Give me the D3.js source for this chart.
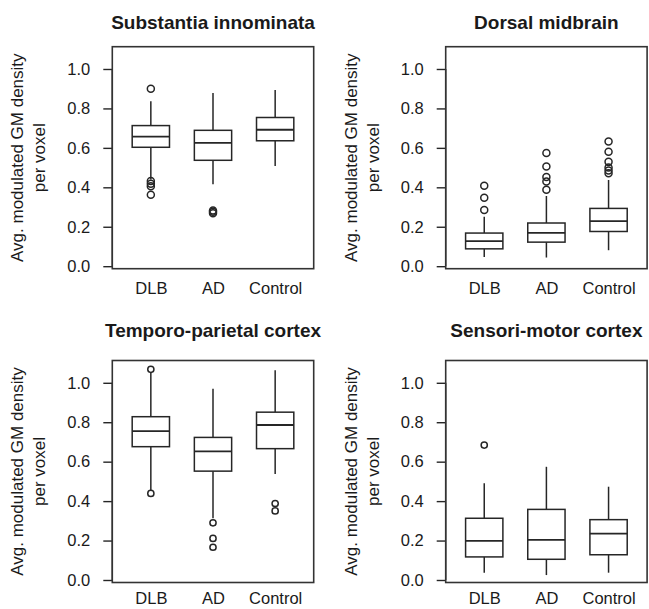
<!DOCTYPE html>
<html>
<head>
<meta charset="utf-8">
<script src="https://cdn.jsdelivr.net/npm/d3@7"></script>
<style>
  html, body { margin: 0; padding: 0; background: #fff; }
  svg { display: block; font-family: "Liberation Sans", Arial, Helvetica, sans-serif; }
</style>
</head>
<body>
<svg id="chart" width="649" height="609"></svg>
<script>
// ---------- data ----------
const groups = ["DLB", "AD", "Control"];
const panelTitles = ["Substantia innominata", "Dorsal midbrain", "Temporo-parietal cortex", "Sensori-motor cortex"];
const yTickValues = [0.0, 0.2, 0.4, 0.6, 0.8, 1.0];
const yLabelLines = ["Avg. modulated GM density", "per voxel"];

// five-number summaries per group: [lower whisker, Q1, median, Q3, upper whisker]
const substantiaStats = [
  [0.440, 0.603, 0.657, 0.713, 0.837],
  [0.416, 0.537, 0.625, 0.689, 0.878],
  [0.508, 0.636, 0.692, 0.754, 0.893]
];
const substantiaOutliers = [
  [0.900, 0.432, 0.418, 0.405, 0.362],
  [0.282, 0.276, 0.268],
  []
];
const midbrainStats = [
  [0.047, 0.088, 0.127, 0.168, 0.251],
  [0.044, 0.122, 0.169, 0.219, 0.356],
  [0.081, 0.176, 0.229, 0.293, 0.437]
];
const midbrainOutliers = [
  [0.408, 0.347, 0.285],
  [0.574, 0.505, 0.452, 0.429, 0.388],
  [0.632, 0.580, 0.529, 0.500, 0.485, 0.471]
];
const temporoStats = [
  [0.456, 0.676, 0.755, 0.828, 1.051],
  [0.313, 0.552, 0.652, 0.723, 0.970],
  [0.537, 0.666, 0.786, 0.851, 1.064]
];
const temporoOutliers = [
  [1.068, 0.439],
  [0.290, 0.211, 0.166],
  [0.388, 0.350]
];
const sensoriStats = [
  [0.037, 0.117, 0.198, 0.313, 0.490],
  [0.025, 0.105, 0.203, 0.358, 0.574],
  [0.037, 0.128, 0.235, 0.306, 0.473]
];
const sensoriOutliers = [
  [0.684],
  [],
  []
];

const panelStats = [substantiaStats, midbrainStats, temporoStats, sensoriStats];
const panelOutliers = [substantiaOutliers, midbrainOutliers, temporoOutliers, sensoriOutliers];

// ---------- layout ----------
const plotW = 201.4, plotH = 222;
const panelPos = [
  { left: 112.3, top: 46.7, titleY: 28.5, r: 3.5, xPad: 14 },
  { left: 445.7, top: 46.7, titleY: 28.5, r: 3.5, xPad: 14 },
  { left: 112.3, top: 360.5, titleY: 337, r: 3.1, xPad: 10 },
  { left: 445.7, top: 360.5, titleY: 337, r: 3.1, xPad: 10 }
];
const ink = "#262626";
const svg = d3.select("#chart");
svg.append("rect").attr("width", 649).attr("height", 609).attr("fill", "#fff");

panelTitles.forEach((title, i) => {
  const p = panelPos[i];
  const g = svg.append("g").attr("transform", `translate(${p.left},${p.top})`);

  const x = d3.scalePoint().domain(groups).range([0, plotW]).padding(0.62);
  const y = d3.scaleLinear().domain([-0.0127, 1.113]).range([plotH, 0]);
  const bw = x.step() * 0.6;

  // y axis
  const ya = g.append("g")
    .call(d3.axisLeft(y).tickValues(yTickValues).tickFormat(d3.format(".1f"))
      .tickSize(9).tickSizeOuter(0).tickPadding(13));
  ya.select(".domain").remove();
  ya.selectAll("line").attr("stroke", ink).attr("stroke-width", 1.4);
  ya.selectAll("text").attr("font-size", 16.5).attr("fill", "#1a1a1a");
  g.append("line").attr("x1", 0).attr("x2", 0).attr("y1", y(0)).attr("y2", y(1))
    .attr("stroke", ink).attr("stroke-width", 1.4);

  // x axis (labels only)
  const xa = g.append("g").attr("transform", `translate(0,${plotH})`)
    .call(d3.axisBottom(x).tickSize(0).tickPadding(p.xPad));
  xa.select(".domain").remove();
  xa.selectAll("text").attr("font-size", 16.5).attr("fill", "#1a1a1a");

  // frame
  g.append("rect").attr("x", 0).attr("y", 0).attr("width", plotW).attr("height", plotH)
    .attr("fill", "none").attr("stroke", "#333").attr("stroke-width", 1.6);

  // boxes
  const stats = panelStats[i];
  const outs = panelOutliers[i];
  groups.forEach((grp, j) => {
    const s = stats[j];
    const cx = x(grp);
    const bg = g.append("g").attr("stroke", ink).attr("stroke-width", 1.5).attr("fill", "none");
    bg.append("line").attr("x1", cx).attr("x2", cx).attr("y1", y(s[3])).attr("y2", y(s[4]));
    bg.append("line").attr("x1", cx).attr("x2", cx).attr("y1", y(s[1])).attr("y2", y(s[0]));
    bg.append("rect").attr("x", cx - bw / 2).attr("width", bw)
      .attr("y", y(s[3])).attr("height", y(s[1]) - y(s[3])).attr("fill", "#fff");
    bg.append("line").attr("x1", cx - bw / 2).attr("x2", cx + bw / 2)
      .attr("y1", y(s[2])).attr("y2", y(s[2])).attr("stroke-width", 1.8);
    outs[j].forEach(v => {
      bg.append("circle").attr("cx", cx).attr("cy", y(v)).attr("r", p.r)
        .attr("fill", "none").attr("stroke-width", 1.5);
    });
  });

  // title
  svg.append("text").attr("x", p.left + plotW / 2).attr("y", p.titleY)
    .attr("text-anchor", "middle").attr("font-weight", "bold").attr("font-size", 19)
    .attr("fill", "#1a1a1a").text(title);

  // y label (two lines)
  const cy = p.top + plotH / 2;
  yLabelLines.forEach((line, k) => {
    const bx = p.left - 89 + k * 22;
    svg.append("text").attr("transform", `translate(${bx},${cy}) rotate(-90)`)
      .attr("text-anchor", "middle").attr("font-size", 17).attr("fill", "#1a1a1a").text(line);
  });
});
</script>
</body>
</html>
